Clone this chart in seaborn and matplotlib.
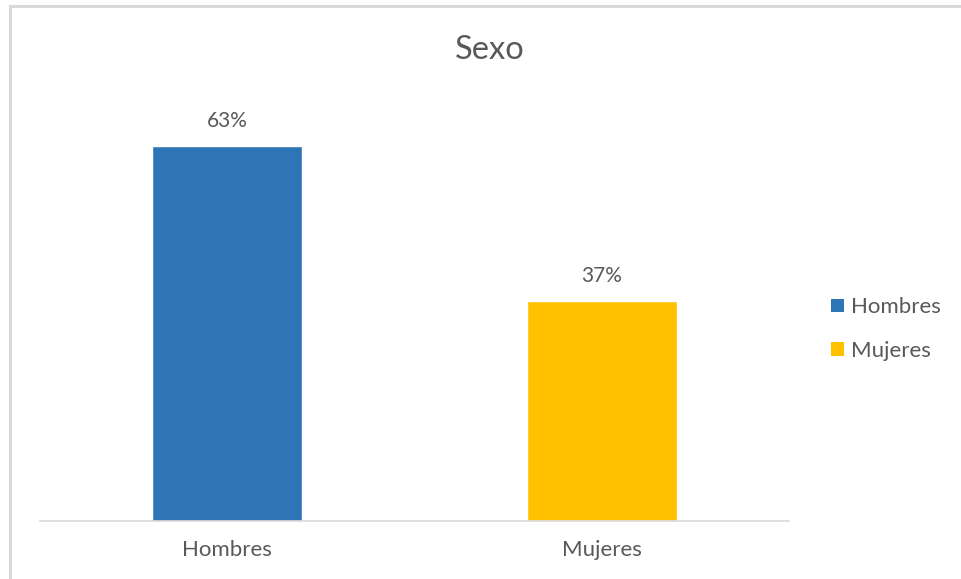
import matplotlib
matplotlib.use("Agg")
import matplotlib.pyplot as plt
import seaborn as sns
import pandas as pd
from matplotlib.patches import Rectangle, Patch

categories = ["Hombres", "Mujeres"]
values = [0.63, 0.37]
labels = ["63%", "37%"]
colors = ["#2E75B6", "#FFC000"]
title = "Sexo"

sns.set_theme(style="white")
plt.rcParams['font.family'] = ['Lato', 'DejaVu Sans']
txt = "#595959"

fig = plt.figure(figsize=(9.61, 5.79), dpi=100)
fig.patches.append(Rectangle((10/961, -0.01), 1.0, 1 - 6/579 + 0.01, transform=fig.transFigure,
                             fill=False, edgecolor="#D9D9D9", linewidth=2.2))
ax = fig.add_axes([40/961, 1 - 521/579, 749/961, 416.5/579])
df = pd.DataFrame({"cat": categories, "val": values})
sns.barplot(data=df, x="cat", y="val", hue="cat", palette=colors, width=0.4, ax=ax,
            legend=False, saturation=1)
ax.set_ylim(0, 0.7)
ax.set_xlim(-0.5, 1.5)
ax.set_yticks([])
ax.set_xlabel("")
ax.set_ylabel("")
for s in ["top", "right", "left"]:
    ax.spines[s].set_visible(False)
ax.spines["bottom"].set_color("#D9D9D9")
ax.spines["bottom"].set_linewidth(1.2)
ax.tick_params(axis="x", length=0, labelsize=16, labelcolor=txt, pad=14)
for i, (v, l) in enumerate(zip(values, labels)):
    ax.annotate(l, (i, v), xytext=(0, 11), textcoords="offset points", ha="center",
                va="bottom", fontsize=15, color=txt)
fig.text(490/961, 1 - 50/579, title, ha="center", va="center", fontsize=23.5, color=txt)
handles = [Patch(facecolor=c, edgecolor="none") for c in colors]
fig.legend(handles, categories, loc="center left", bbox_to_anchor=(811/961, 1 - 329/579),
           frameon=False, fontsize=16, labelcolor=txt, handlelength=0.58, handleheight=0.58,
           handletextpad=0.3, labelspacing=1.05)
fig.savefig("out.png", dpi=100)
